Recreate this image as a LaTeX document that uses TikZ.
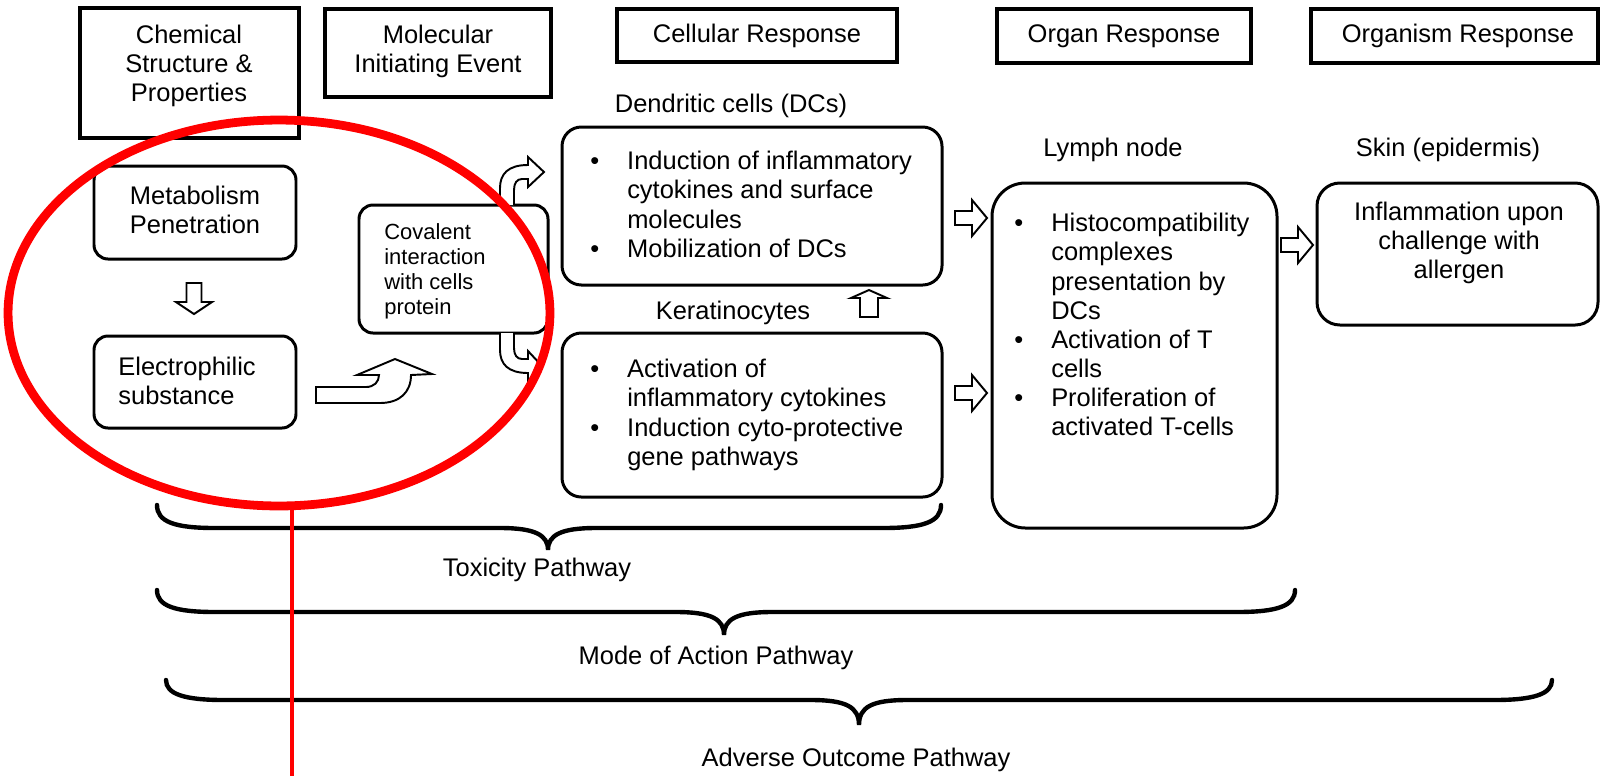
\documentclass[tikz,border=0pt]{standalone}
\usepackage{fontspec}
\setmainfont{Liberation Sans}
\usetikzlibrary{fit}
\newcommand{\blt}{\makebox[21pt][l]{\textbullet}}
\newcommand{\ind}{\hspace*{21pt}}
% #1 left x, #2 right x, #3 tip x, #4 top y, #5 middle y, #6 tip y
\newcommand{\mybrace}[6]{%
  \draw[bracestyle] (#1,#4) .. controls (#1,{#5-6}) and ({#1+18},#5) .. ({#1+58},#5)
    -- ({#3-48},#5) .. controls ({#3-13},#5) and (#3,{#5+7}) .. (#3,#6)
    .. controls (#3,{#5+7}) and ({#3+13},#5) .. ({#3+48},#5)
    -- ({#2-58},#5) .. controls ({#2-18},#5) and (#2,{#5-6}) .. (#2,#4);}
\begin{document}
\begin{tikzpicture}[x=0.02cm,y=-0.02cm,
  hdr/.style={draw, line width=2pt, inner sep=0pt},
  rbox/.style={draw, line width=1.7pt, rounded corners=#1, inner sep=0pt},
  rbox/.default=9pt,
  txt/.style={font=\fontsize{14.5}{16.6}\selectfont, inner sep=0pt},
  smalltxt/.style={font=\fontsize{12.5}{14.3}\selectfont, inner sep=0pt},
  blk/.style={draw, line width=1.1pt, fill=white, line join=miter},
  bracestyle/.style={line width=2.5pt, line cap=round},
  rarr/.pic={\draw[blk] (0,-7) -- (17,-7) -- (17,-18) -- (32,0) -- (17,18) -- (17,7) -- (0,7) -- cycle;},
  darr/.pic={\draw[blk] (-7.5,0) -- (-7.5,19) -- (-18,19) -- (0,31) -- (18,19) -- (7.5,19) -- (7.5,0) -- cycle;},
  uarr/.pic={\draw[blk] (0,0) -- (18,8) -- (9,8) -- (9,27) -- (-9,27) -- (-9,8) -- (-18,8) -- cycle;}
]
\useasboundingbox (0,0) rectangle (1602,775);

% header boxes
\node[hdr, fit={(80,8) (299,138)}] (chem) {};
\node[hdr, fit={(325,9) (551,97)}] (mol) {};
\node[hdr, fit={(617,9) (897,62)}] (cell) {};
\node[hdr, fit={(997,9) (1251,63)}] (organ) {};
\node[hdr, fit={(1311,9) (1598,63)}] (organism) {};
\node[txt, align=center] (tchem) at (189,66) {Chemical\\Structure \&\\Properties};
\node[txt, align=center] (tmol) at (438,51) {Molecular\\Initiating Event};
\node[txt] (tcell) at (757,36) {Cellular Response};
\node[txt] (torgan) at (1124,36) {Organ Response};
\node[txt] (torganism) at (1458,36) {Organism Response};

% content boxes
\node[rbox=8pt, fit={(94,166) (296,259)}] (metab) {};
\node[rbox=8pt, fit={(94,336) (296,428)}] (elec) {};
\node[rbox=8pt, fit={(359,205) (548,333)}] (cov) {};
\node[rbox=11pt, fit={(562,127) (942,285)}] (dc) {};
\node[rbox=11pt, fit={(562,333) (942,497)}] (ker) {};
\node[rbox=19pt, fit={(992,183) (1277,528)}] (lymph) {};
\node[rbox=13pt, fit={(1317,183) (1598,325)}] (skin) {};

\node[txt, align=center] (tmetab) at (195,210) {Metabolism\\Penetration};
\node[txt, align=left, anchor=west] (telec) at (118,381) {Electrophilic\\substance};
\node[smalltxt, align=left, anchor=west] (tcov) at (384,271) {Covalent\\interaction\\with cells\\protein};
\node[txt] (ldc) at (731,106) {Dendritic cells (DCs)};
\node[txt] (lker) at (733,313) {Keratinocytes};
\node[txt] (llymph) at (1113,150) {Lymph node};
\node[txt] (lskin) at (1448,150) {Skin (epidermis)};
\node[txt, align=left, anchor=north west] (tdc) at (590,149)
  {\strut\blt Induction of inflammatory\\\ind cytokines and surface\\\ind molecules\\\blt Mobilization of DCs};
\node[txt, align=left, anchor=north west] (tker) at (590,357)
  {\strut\blt Activation of\\\ind inflammatory cytokines\\\blt Induction cyto-protective\\\ind gene pathways};
\node[txt, align=left, anchor=north west] (tlymph) at (1014,211)
  {\strut\blt Histocompatibility\\\ind complexes\\\ind presentation by\\\ind DCs\\\blt Activation of T\\\ind cells\\\blt Proliferation of\\\ind activated T-cells};
\node[txt, align=center] (tskin) at (1459,243) {Inflammation upon\\challenge with\\allergen};

% block arrows
\pic at (194,283) {darr};
\pic at (869,290) {uarr};
\pic at (955,218) {rarr};
\pic at (955,393) {rarr};
\pic at (1281,245) {rarr};
% curved arrow electrophilic -> covalent
\draw[blk] (316,387) -- (366,387) .. controls (374,387) and (379,382) .. (379,375)
  -- (357,375) -- (395,359) -- (432,374) -- (411,375)
  .. controls (411,392) and (400,403) .. (380,403) -- (316,403) -- cycle;
% bent arrow covalent -> DCs
\draw[blk] (500,205) -- (500,188) .. controls (500,174) and (508,165) .. (528,165)
  -- (528,157) -- (544,172) -- (528,187) -- (528,179) -- (522,179)
  .. controls (517,179) and (514,183) .. (514,190) -- (514,205);
% bent arrow covalent -> keratinocytes
\draw[blk] (500,333) -- (500,350) .. controls (500,364) and (508,373) .. (528,373)
  -- (528,381) -- (542,366) -- (528,351) -- (528,359) -- (522,359)
  .. controls (517,359) and (514,355) .. (514,348) -- (514,333);

% braces
\mybrace{157}{941}{548}{505}{528}{550}
\node[txt] (ltox) at (537,570) {Toxicity Pathway};
\mybrace{157}{1295}{724}{590}{612}{635}
\node[txt] (lmoa) at (716,658) {Mode of Action Pathway};
\mybrace{166}{1552}{859}{680}{700}{725}
\node[txt] (laop) at (856,760) {Adverse Outcome Pathway};

% red annotation
\draw[red, line width=5pt] (279,313) ellipse [x radius=5.42cm, y radius=3.86cm];
\coordinate (rl1) at (292,506);
\coordinate (rl2) at (292,778);
\draw[red, line width=2.8pt] (rl1) -- (rl2);
\end{tikzpicture}
\end{document}
